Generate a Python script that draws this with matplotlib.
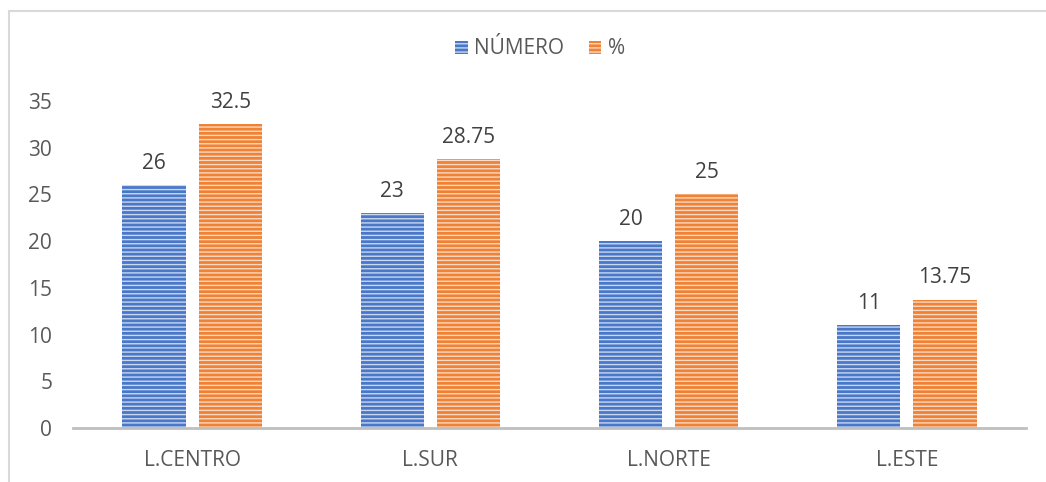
import matplotlib
matplotlib.use("Agg")
import matplotlib.pyplot as plt
from matplotlib.patches import Rectangle
import numpy as np

categories = ["L.CENTRO", "L.SUR", "L.NORTE", "L.ESTE"]
numero = [26, 23, 20, 11]
porcentaje = [32.5, 28.75, 25, 13.75]
numero_labels = ["26", "23", "20", "11"]
porcentaje_labels = ["32.5", "28.75", "25", "13.75"]
series_names = ["NÚMERO", "%"]
yticks = [0, 5, 10, 15, 20, 25, 30, 35]

plt.rcParams['font.family'] = ['Open Sans', 'DejaVu Sans']
plt.rcParams['hatch.linewidth'] = 1.0

W, H = 1046, 482
fig = plt.figure(figsize=(W/100, H/100), dpi=100)
fig.patch.set_facecolor('white')

# chart border
fig.add_artist(Rectangle((9/W, -0.1), 1.2, (H-11)/H + 0.1, transform=fig.transFigure,
                         fill=False, edgecolor='#d9d9d9', linewidth=1.5))

ax = fig.add_axes([73/W, 54/H, (1026-73)/W, (428-101)/H])
x = np.arange(len(categories))
bw = 0.265
off = 0.16

b1 = ax.bar(x - off, numero, bw, facecolor='#4a78c8', edgecolor='#c9d7f0', hatch='----',
            linewidth=0, label=series_names[0])
b2 = ax.bar(x + off, porcentaje, bw, facecolor='#ef8235', edgecolor='#fbd9c2', hatch='----',
            linewidth=0, label=series_names[1])

txtc = '#404040'
fs = 15
for xi, v, l in zip(x - off, numero, numero_labels):
    ax.annotate(l, (xi, v), xytext=(0, 8), textcoords='offset points', ha='center', va='bottom',
                fontsize=fs, color=txtc)
for xi, v, l in zip(x + off, porcentaje, porcentaje_labels):
    ax.annotate(l, (xi, v), xytext=(0, 8), textcoords='offset points', ha='center', va='bottom',
                fontsize=fs, color=txtc)

ax.set_xlim(-0.5, len(categories) - 0.5)
ax.set_ylim(0, 35)
ax.set_yticks(yticks)
ax.set_yticklabels([str(t) for t in yticks])
ax.set_xticks(x)
ax.set_xticklabels(categories)
ax.tick_params(axis='y', length=0, labelsize=fs, labelcolor='#595959', pad=15)
ax.tick_params(axis='x', length=0, labelsize=fs, labelcolor='#595959', pad=16)
for s in ['top', 'right', 'left']:
    ax.spines[s].set_visible(False)
ax.spines['bottom'].set_color('#bfbfbf')
ax.spines['bottom'].set_linewidth(2)
ax.set_facecolor('none')

leg = fig.legend(handles=[b1, b2], labels=series_names, loc='center', bbox_to_anchor=(540/W, 1 - 49/H),
                 ncol=2, frameon=False, fontsize=fs, handlelength=0.6, handleheight=0.6,
                 handletextpad=0.3, columnspacing=1.2, labelcolor='#595959')

fig.savefig('out.png', dpi=100)
